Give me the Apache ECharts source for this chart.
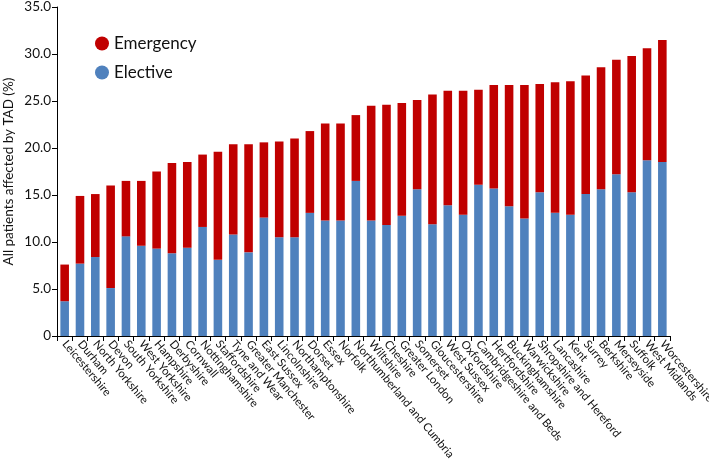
<!DOCTYPE html>
<html>
<head>
<meta charset="utf-8">
<script src="https://cdn.jsdelivr.net/npm/echarts@6/dist/echarts.min.js"></script>
<style>html,body{margin:0;padding:0;background:#fff}#c{width:709px;height:466px}</style>
</head>
<body>
<div id="c"></div>
<script>
var categories = ["Leicestershire","Durham","North Yorkshire","Devon","South Yorkshire","West Yorkshire","Hampshire","Derbyshire","Cornwall","Nottinghamshire","Staffordshire","Tyne and Wear","Greater Manchester","East Sussex","Lincolnshire","Northamptonshire","Dorset","Essex","Norfolk","Northumberland and Cumbria","Wiltshire","Cheshire","Greater London","Somerset","Gloucestershire","West Sussex","Oxfordshire","Cambridgeshire and Beds","Hertfordshire","Buckinghamshire","Warwickshire","Shropshire and Hereford","Lancashire","Kent","Surrey","Berkshire","Merseyside","Suffolk","West Midlands","Worcestershire"];
var elective = [3.7,7.7,8.4,5.1,10.6,9.6,9.3,8.8,9.4,11.6,8.1,10.8,8.9,12.6,10.5,10.5,13.1,12.3,12.3,16.5,12.3,11.8,12.8,15.6,11.9,13.9,12.9,16.1,15.7,13.8,12.5,15.3,13.1,12.9,15.1,15.6,17.2,15.3,18.7,18.5];
var total = [7.6,14.9,15.1,16.0,16.5,16.5,17.5,18.4,18.5,19.3,19.6,20.4,20.4,20.6,20.7,21.0,21.8,22.6,22.6,23.5,24.5,24.6,24.8,25.1,25.7,26.1,26.1,26.2,26.7,26.7,26.7,26.8,27.0,27.1,27.7,28.6,29.4,29.8,30.6,31.5];
var emergency = total.map(function(t,i){return +(t - elective[i]).toFixed(2);});
var yTicks = {min:0, max:35, interval:5};

var FONT = "Lato";
var chart = echarts.init(document.getElementById('c'), null, {renderer:'canvas'});
chart.setOption({
  animation:false,
  textStyle:{fontFamily:FONT},
  grid:{left:57,right:39,top:7,bottom:130,containLabel:false,outerBoundsMode:'none'},
  legend:{
    orient:'vertical', left:90, top:30, icon:'circle', itemWidth:14, itemHeight:14, itemGap:12,
    textStyle:{fontSize:17,color:'#111',fontFamily:FONT},
    data:['Emergency','Elective']
  },
  xAxis:{
    type:'category', data:categories,
    axisLine:{lineStyle:{color:'#000',width:1}},
    axisTick:{show:true,length:5,lineStyle:{color:'#000'}},
    axisLabel:{rotate:-50,interval:0,fontSize:11.4,color:'#111',fontFamily:FONT,margin:6}
  },
  yAxis:{
    type:'value', min:yTicks.min, max:yTicks.max, interval:yTicks.interval,
    name:'All patients affected by TAD (%)', nameLocation:'middle', nameRotate:90, nameGap:41,
    nameMoveOverlap:false,
    nameTextStyle:{fontSize:13.5,color:'#111',fontFamily:FONT},
    splitLine:{show:false},
    axisLine:{show:true,lineStyle:{color:'#000',width:1}},
    axisTick:{show:true,length:5,lineStyle:{color:'#000'}},
    axisLabel:{fontSize:13.5,color:'#111',fontFamily:FONT,margin:6,
      formatter:function(v){return v===0?'0':v.toFixed(1);}}
  },
  series:[
    {name:'Elective',type:'bar',stack:'a',data:elective,barWidth:'56%',itemStyle:{color:'#4F81BD'}},
    {name:'Emergency',type:'bar',stack:'a',data:emergency,barWidth:'56%',itemStyle:{color:'#C00000'}}
  ]
});
</script>
</body>
</html>
